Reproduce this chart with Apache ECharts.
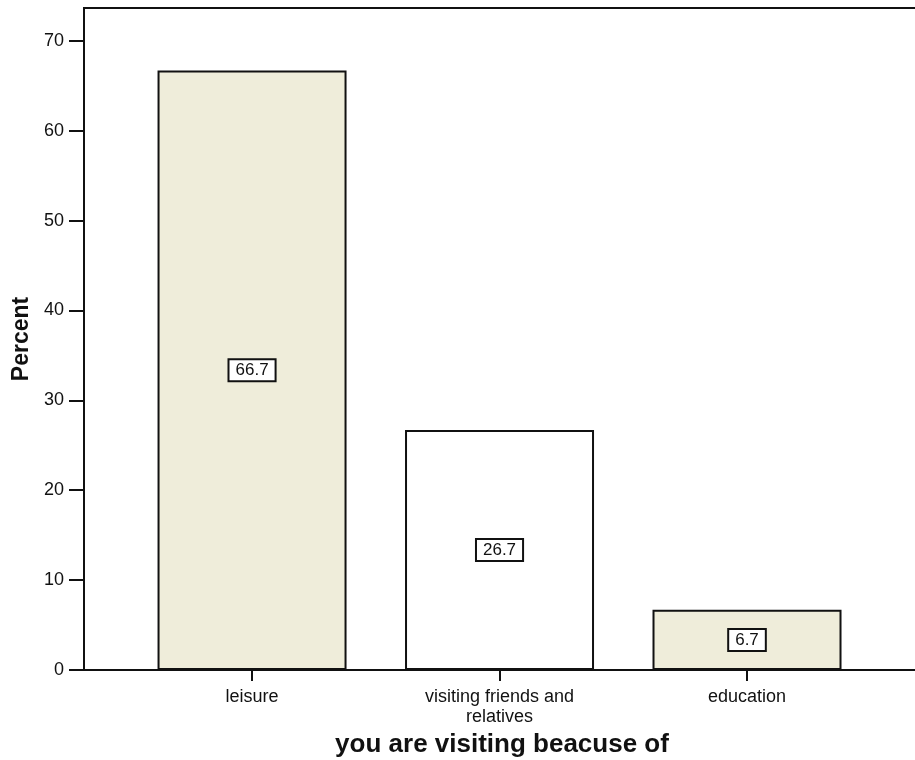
<!DOCTYPE html>
<html>
<head>
<meta charset="utf-8">
<script src="https://cdn.jsdelivr.net/npm/echarts@6/dist/echarts.min.js"></script>
<style>
  html, body { margin: 0; padding: 0; background: #ffffff; }
  #chart { width: 915px; height: 760px; }
</style>
</head>
<body>
<div id="chart"></div>
<script>
// Reasons for visiting, percent of respondents
const categories = ['leisure', 'visiting friends and\nrelatives', 'education'];
const percents = [66.7, 26.7, 6.7];
const yTicks = [0, 10, 20, 30, 40, 50, 60, 70];
const xTitle = 'you are visiting beacuse of';
const yTitle = 'Percent';

const barFills = ['#efedda', '#ffffff', '#efedda'];
const FONT = '"Liberation Sans", Arial, sans-serif';

const chart = echarts.init(document.getElementById('chart'), null, { renderer: 'canvas' });

chart.setOption({
  animation: false,
  backgroundColor: '#ffffff',
  grid: {
    left: 84, top: 8, right: -5, bottom: 90,
    containLabel: false,
    outerBoundsMode: 'none',
    show: true, borderColor: '#111111', borderWidth: 2, backgroundColor: 'transparent'
  },
  xAxis: {
    type: 'value',
    min: -0.679,
    max: 2.699,
    splitLine: { show: false },
    axisLine: { show: true, onZero: false, lineStyle: { color: '#111111', width: 2 } },
    axisTick: {
      show: true, length: 11, inside: false,
      customValues: categories.map((c, i) => i),
      lineStyle: { color: '#111111', width: 2 }
    },
    axisLabel: {
      customValues: categories.map((c, i) => i),
      formatter: v => categories[Math.round(v)] ?? '',
      fontFamily: FONT, fontSize: 18, color: '#111111', margin: 17, lineHeight: 20
    },
    name: xTitle,
    nameLocation: 'middle',
    nameGap: 61,
    nameTextStyle: { fontFamily: FONT, fontSize: 26, fontWeight: 'bold', color: '#111111' }
  },
  yAxis: {
    type: 'value',
    min: 0,
    max: 73.65,
    splitLine: { show: false },
    axisLine: { show: true, onZero: false, lineStyle: { color: '#111111', width: 2 } },
    axisTick: {
      show: true, length: 15, inside: false,
      customValues: yTicks,
      lineStyle: { color: '#111111', width: 2 }
    },
    axisLabel: {
      customValues: yTicks,
      fontFamily: FONT, fontSize: 18, color: '#111111', margin: 20
    },
    name: yTitle,
    nameLocation: 'middle',
    nameGap: 51,
    nameRotate: 90,
    nameTextStyle: { fontFamily: FONT, fontSize: 23, fontWeight: 'bold', color: '#111111' }
  },
  series: [{
    type: 'bar',
    barWidth: 189,
    data: percents.map((p, i) => ({
      value: [i, p],
      itemStyle: { color: barFills[i], borderColor: '#111111', borderWidth: 2 }
    })),
    label: {
      show: true,
      position: 'inside',
      formatter: p => p.value[1].toFixed(1),
      fontFamily: FONT, fontSize: 17, color: '#111111',
      backgroundColor: '#ffffff',
      borderColor: '#111111', borderWidth: 2,
      padding: [2, 6, 1, 6]
    }
  }]
});
</script>
</body>
</html>
